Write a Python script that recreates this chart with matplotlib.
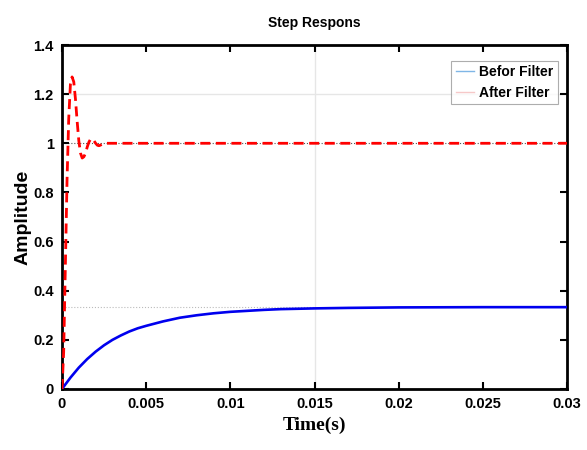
import matplotlib
matplotlib.use("Agg")
import matplotlib.pyplot as plt
from matplotlib.lines import Line2D

# ======================
# |       DATA         |
# ======================
t_before = [0, 0.0005, 0.001, 0.0015, 0.002, 0.0025, 0.003, 0.0035, 0.004,
            0.0045, 0.005, 0.006, 0.007, 0.008, 0.009, 0.010, 0.011, 0.012,
            0.013, 0.015, 0.017, 0.020, 0.025, 0.030]
y_before = [0, 0.046, 0.087, 0.122, 0.152, 0.178, 0.200, 0.218, 0.234,
            0.247, 0.257, 0.275, 0.290, 0.300, 0.308, 0.314, 0.318, 0.322,
            0.325, 0.328, 0.330, 0.332, 0.333, 0.333]

t_after = [0, 0.0001, 0.0002, 0.0003, 0.0004, 0.0005, 0.0006, 0.0007, 0.0008,
           0.0009, 0.0010, 0.0011, 0.0012, 0.0013, 0.0014, 0.0015, 0.0016,
           0.0017, 0.0018, 0.0019, 0.0020, 0.0021, 0.0022, 0.0023, 0.0025,
           0.0030, 0.0300]
y_after = [0, 0.15, 0.50, 0.85, 1.10, 1.24, 1.27, 1.25, 1.18,
           1.09, 1.01, 0.96, 0.94, 0.945, 0.96, 0.985, 1.005,
           1.017, 1.018, 1.01, 1.0, 0.992, 0.99, 0.993, 1.0,
           1.0, 1.0]

x_ticks = [0, 0.005, 0.01, 0.015, 0.02, 0.025, 0.03]
x_labels = ["0", "0.005", "0.01", "0.015", "0.02", "0.025", "0.03"]
y_ticks = [0, 0.2, 0.4, 0.6, 0.8, 1.0, 1.2, 1.4]
y_labels = ["0", "0.2", "0.4", "0.6", "0.8", "1", "1.2", "1.4"]

narrow = ["Liberation Sans Narrow", "Liberation Sans", "DejaVu Sans"]

# ======================
# |       PLOT         |
# ======================
fig = plt.figure(figsize=(5.87, 4.5), dpi=100)
ax = fig.add_axes([0.1056, 0.1356, 0.8604, 0.7644])

# faint grid-like lines from the step plot
ax.axhline(1.2, color="#e6e6e6", lw=1.0, zorder=0)
ax.axvline(0.015, color="#e6e6e6", lw=1.0, zorder=0)
ax.plot([0, 0.03], [1.0, 1.0], color="#555555", lw=0.8, ls=":", zorder=1)
ax.plot([0, 0.015], [0.333, 0.333], color="#bbbbbb", lw=0.8, ls=":", zorder=1)

ax.plot(t_before, y_before, color="#0000ee", lw=1.9, zorder=3)
ax.plot(t_after, y_after, color="#ff0000", lw=2.0, ls=(0, (3.6, 2.0)), zorder=4)

ax.set_xlim(0, 0.03)
ax.set_ylim(0, 1.4)
ax.set_xticks(x_ticks)
ax.set_xticklabels(x_labels)
ax.set_yticks(y_ticks)
ax.set_yticklabels(y_labels)
ax.tick_params(direction="in", top=True, right=True, length=5, width=1.5, pad=6)
for lab in ax.get_xticklabels() + ax.get_yticklabels():
    lab.set_family(narrow)
    lab.set_fontweight("bold")
    lab.set_fontsize(10.5)
for s in ax.spines.values():
    s.set_linewidth(2.0)
    s.set_color("black")

ax.set_title("Step Respons", family=narrow, fontweight="bold", fontsize=10, pad=13)
ax.set_xlabel("Time(s)", family=["Liberation Serif", "DejaVu Serif"],
              fontweight="bold", fontsize=14, labelpad=4)
ax.set_ylabel("Amplitude", family=["Liberation Sans", "DejaVu Sans"],
              fontweight="bold", fontsize=14, labelpad=1)

handles = [Line2D([], [], color="#7fb6e6", lw=1.0),
           Line2D([], [], color="#f6c8c8", lw=1.0)]
leg = ax.legend(handles, ["Befor Filter", "After Filter"], loc="upper right",
                bbox_to_anchor=(0.995, 0.975), frameon=True, fancybox=False,
                handlelength=1.3, handletextpad=0.4, borderpad=0.3,
                labelspacing=0.5,
                prop={"family": narrow, "weight": "bold", "size": 10})
leg.get_frame().set_edgecolor("#999999")
leg.get_frame().set_linewidth(0.8)

fig.savefig("out.png", dpi=100)
